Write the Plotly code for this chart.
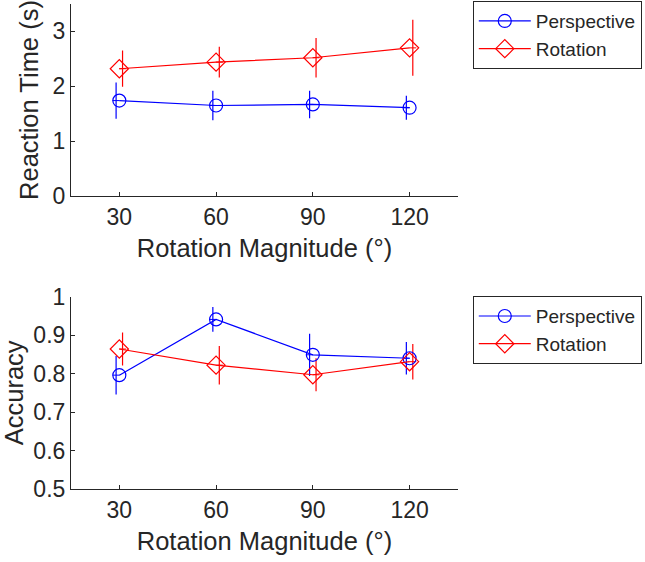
import plotly.graph_objects as go

angles = [30, 60, 90, 120]

rt_persp = [1.74, 1.65, 1.67, 1.61]
rt_persp_err = [0.33, 0.27, 0.25, 0.22]
rt_rot = [2.32, 2.44, 2.52, 2.70]
rt_rot_err = [0.33, 0.28, 0.36, 0.51]

acc_persp = [0.796, 0.941, 0.849, 0.840]
acc_persp_err = [0.050, 0.032, 0.055, 0.042]
acc_rot = [0.864, 0.822, 0.797, 0.831]
acc_rot_err = [0.043, 0.050, 0.043, 0.046]

err_offset = 1.0
BLUE = "rgb(0,0,255)"
RED = "rgb(255,0,0)"
TXT = "#262626"
FONT = "Liberation Sans, Arial, sans-serif"

fig = go.Figure()

def add_panel(xa, ya, legend, persp, persp_err, rot, rot_err):
    fig.add_trace(go.Scatter(
        x=[a - err_offset for a in angles], y=persp, mode="markers",
        marker=dict(symbol="line-ew", size=5, color=BLUE, line=dict(color=BLUE, width=1)),
        error_y=dict(type="data", array=persp_err, color=BLUE, thickness=1.2, width=0),
        xaxis=xa, yaxis=ya, showlegend=False, hoverinfo="skip"))
    fig.add_trace(go.Scatter(
        x=[a + err_offset for a in angles], y=rot, mode="markers",
        marker=dict(symbol="line-ew", size=5, color=RED, line=dict(color=RED, width=1)),
        error_y=dict(type="data", array=rot_err, color=RED, thickness=1.2, width=0),
        xaxis=xa, yaxis=ya, showlegend=False, hoverinfo="skip"))
    fig.add_trace(go.Scatter(
        x=angles, y=persp, mode="lines+markers", name="Perspective",
        line=dict(color=BLUE, width=1.2),
        marker=dict(symbol="circle-open", size=13, color=BLUE, line=dict(color=BLUE, width=1.2)),
        xaxis=xa, yaxis=ya, legend=legend))
    fig.add_trace(go.Scatter(
        x=angles, y=rot, mode="lines+markers", name="Rotation",
        line=dict(color=RED, width=1.2),
        marker=dict(symbol="diamond-open", size=14, color=RED, line=dict(color=RED, width=1.2)),
        xaxis=xa, yaxis=ya, legend=legend))

add_panel("x", "y", "legend", rt_persp, rt_persp_err, rt_rot, rt_rot_err)
add_panel("x2", "y2", "legend2", acc_persp, acc_persp_err, acc_rot, acc_rot_err)

axis_common = dict(
    showline=True, linecolor=TXT, linewidth=1, mirror=False,
    ticks="inside", ticklen=4, tickcolor=TXT, tickwidth=1,
    showgrid=False, zeroline=False,
    tickfont=dict(family=FONT, size=23, color=TXT),
    automargin=False,
)
TITLE_FONT = dict(family=FONT, size=25.5, color=TXT)

legend_common = dict(xanchor="left", yanchor="top",
                     bordercolor=TXT, borderwidth=1, bgcolor="white",
                     font=dict(family=FONT, size=19, color=TXT), tracegroupgap=0,
                     itemwidth=52)

fig.update_layout(
    width=645, height=562,
    margin=dict(l=0, r=0, t=0, b=0),
    paper_bgcolor="white", plot_bgcolor="white",
    font=dict(family=FONT, color=TXT),
    xaxis=dict(domain=[0.110, 0.710], range=[15, 135], tickvals=angles, anchor="y",
               title=dict(text="Rotation Magnitude (°)", font=TITLE_FONT, standoff=10),
               **axis_common),
    yaxis=dict(domain=[0.651, 0.993], range=[0, 3.5], tickvals=[0, 1, 2, 3], anchor="x",
               title=dict(text="Reaction Time (s)", font=TITLE_FONT, standoff=6),
               **axis_common),
    xaxis2=dict(domain=[0.110, 0.710], range=[15, 135], tickvals=angles, anchor="y2",
                title=dict(text="Rotation Magnitude (°)", font=TITLE_FONT, standoff=10),
                **axis_common),
    yaxis2=dict(domain=[0.130, 0.472], range=[0.5, 1.0], tickvals=[0.5, 0.6, 0.7, 0.8, 0.9, 1.0],
                ticktext=["0.5", "0.6", "0.7", "0.8", "0.9", "1"], anchor="x2",
                title=dict(text="Accuracy", font=TITLE_FONT, standoff=4),
                **axis_common),
    legend=dict(x=0.733, y=0.998, **legend_common),
    legend2=dict(x=0.733, y=0.473, **legend_common),
)

fig.write_html("out.html")
